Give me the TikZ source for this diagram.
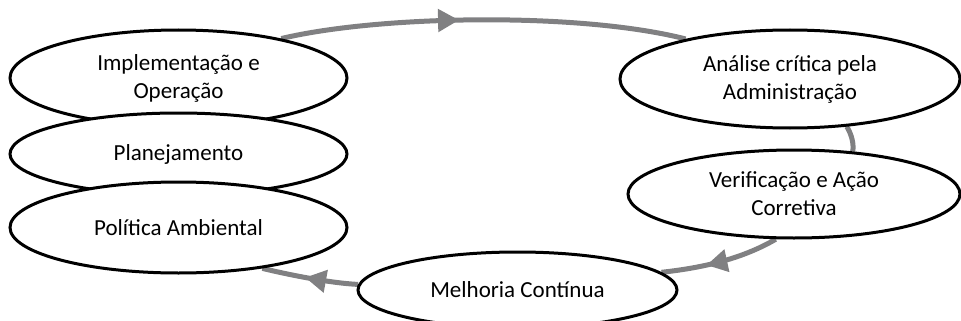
\documentclass[tikz,border=0pt]{standalone}
\usepackage{fontspec}
\setmainfont{Carlito}
\usetikzlibrary{shapes.geometric,arrows.meta,decorations.markings,backgrounds}
\definecolor{flowgray}{RGB}{128,128,130}
\begin{document}
\begin{tikzpicture}[x=1pt,y=-1pt,
  stage/.style={ellipse, draw=black, line width=3pt, fill=white, inner sep=0pt, align=center,
                font=\fontsize{23}{28}\selectfont},
  flow/.style={color=flowgray, line width=5pt},
  midarrow/.style={postaction={decorate}, decoration={markings,
      mark=at position #1 with {\arrow{Triangle[length=21pt,width=22pt]}}}}]
\clip (0,0) rectangle (961,321);
\node[stage, minimum width=337pt, minimum height=96pt] (impl) at (178.5,78) {Implementação e\\Operação};
\node[stage, minimum width=337pt, minimum height=82pt] (plan) at (178.5,154) {Planejamento};
\node[stage, minimum width=337pt, minimum height=91pt] (pol) at (178.5,227.5) {Política Ambiental};
\node[stage, minimum width=340pt, minimum height=98pt] (anal) at (790,79) {Análise crítica pela\\Administração};
\node[stage, minimum width=332pt, minimum height=88pt] (verif) at (794,194) {Verificação e Ação\\Corretiva};
\node[stage, minimum width=319pt, minimum height=76pt] (melh) at (517.5,290) {Melhoria Contínua};
\begin{scope}[on background layer]
\draw[flow, midarrow=0.44] (impl.21) .. controls (380,15) and (580,12) .. (anal.159);
\draw[flow] (anal.-40) .. controls (852,135) and (854,145) .. (verif.36);
\draw[flow, midarrow=0.62] (verif.-112) .. controls (740,260) and (700,268) .. (melh.7);
\draw[flow, midarrow=0.55] (melh.178) .. controls (330,283) and (290,275) .. (pol.-26);
\end{scope}
\end{tikzpicture}
\end{document}
